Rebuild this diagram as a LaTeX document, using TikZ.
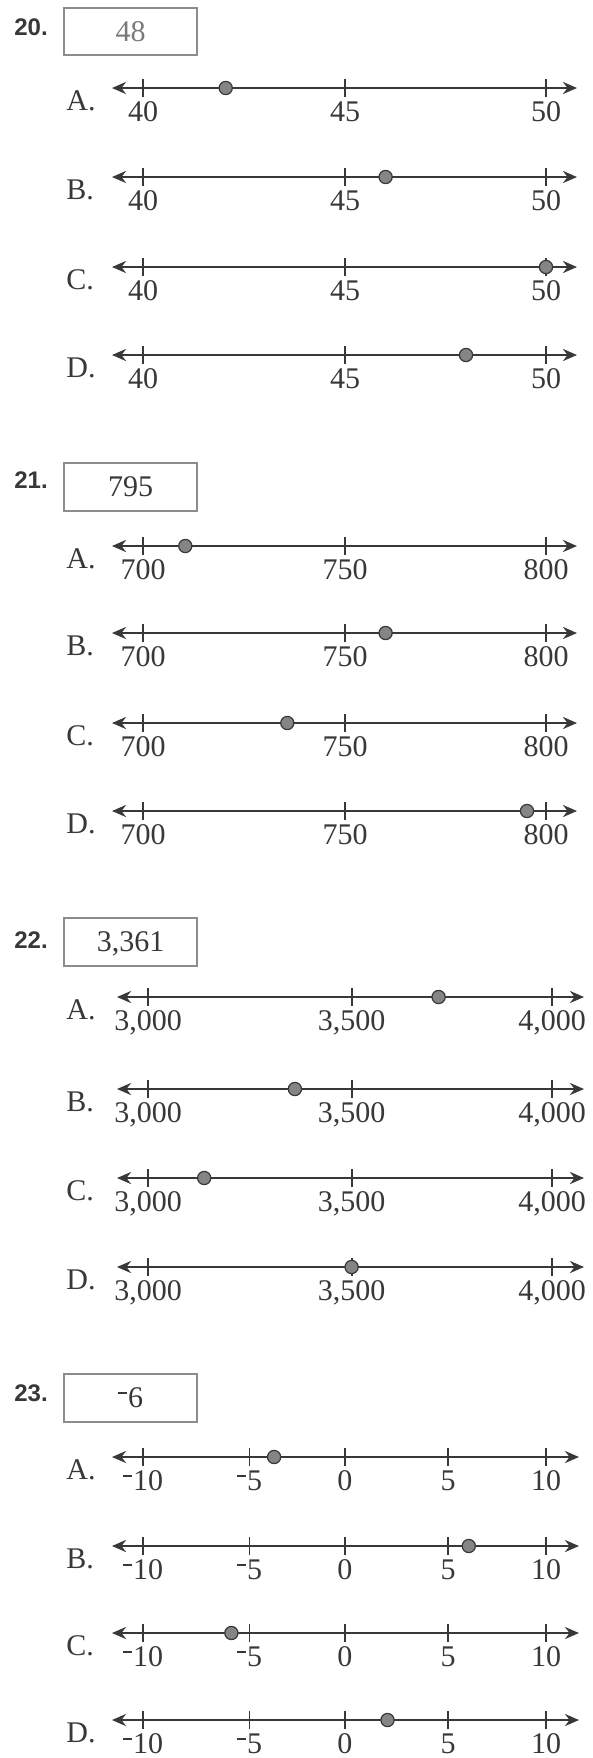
\documentclass[tikz,border=0pt]{standalone}
\usepackage{fontspec}
\setmainfont{Liberation Serif}
\setsansfont{Liberation Sans}
\usetikzlibrary{arrows.meta}
\definecolor{ink}{HTML}{383838}
\definecolor{boxgray}{HTML}{8C8C8C}
\definecolor{dotfill}{HTML}{858585}
\definecolor{lightnum}{HTML}{7A7A7A}
\newcommand{\smin}{\raisebox{0.45em}{\rule{0.3em}{0.07em}}\kern0.04em}
\newcommand{\numline}[7]{%
  \coordinate (#1-l) at (#4,#2);
  \coordinate (#1-r) at (#5,#2);
  \draw[axis] (#1-l) -- (#1-r);
  \foreach \tx/\tl [count=\ti] in {#6} {
    \coordinate (#1-t\ti-a) at (\tx,#2-9);
    \coordinate (#1-t\ti-b) at (\tx,#2+9);
    \draw[tickmark] (#1-t\ti-a) -- (#1-t\ti-b);
    \node[ticklab] (#1-n\ti) at (\tx,#2+24) {\tl};
  }
  \node[letter] (#1-let) at (66,#2+13) {#3.};
  \node[dot] (#1-dot) at (#7,#2) {};
}
\begin{document}
\begin{tikzpicture}[x=0.5pt,y=-0.5pt,
  axis/.style={draw=ink,line width=1.35pt,>={Stealth[length=7pt,width=6pt]},<->},
  tickmark/.style={draw=ink,line width=0.95pt},
  ticklab/.style={font=\fontsize{15}{15}\selectfont,text=ink,inner sep=0pt,text depth=0pt,anchor=center},
  letter/.style={font=\fontsize{15}{15}\selectfont,text=ink,inner sep=0pt,anchor=west},
  dot/.style={circle,fill=dotfill,draw=ink,line width=0.6pt,minimum size=6.6pt,inner sep=0pt},
  answerbox/.style={draw=boxgray,line width=0.8pt,minimum width=66.5pt,minimum height=24pt,inner sep=0pt,font=\fontsize{15}{15}\selectfont,text=ink,text depth=0pt},
  qnum/.style={font=\sffamily\bfseries\fontsize{12}{12}\selectfont,text=ink,inner sep=0pt}]
\fill[white] (0,0) rectangle (593,1758);
\useasboundingbox (0,0) rectangle (593,1758);

% ---------- 20 ----------
\node[qnum] (q20) at (31,27) {20.};
\node[answerbox,text=lightnum,minimum height=23.5pt] (b20) at (130.5,31.5) {48};
\numline{20a}{88}{A}{112}{577}{143/40,345/45,546/50}{225.7}
\numline{20b}{177}{B}{112}{577}{143/40,345/45,546/50}{385.6}
\numline{20c}{267}{C}{112}{577}{143/40,345/45,546/50}{546}
\numline{20d}{355}{D}{112}{577}{143/40,345/45,546/50}{466}

% ---------- 21 ----------
\node[qnum] (q21) at (31,480) {21.};
\node[answerbox] (b21) at (130.5,487) {795};
\numline{21a}{546}{A}{112}{577}{143/700,345/750,546/800}{185.3}
\numline{21b}{633}{B}{112}{577}{143/700,345/750,546/800}{385.6}
\numline{21c}{723}{C}{112}{577}{143/700,345/750,546/800}{287.3}
\numline{21d}{811}{D}{112}{577}{143/700,345/750,546/800}{527}

% ---------- 22 ----------
\node[qnum] (q22) at (31,940) {22.};
\node[answerbox] (b22) at (130.5,942) {3,361};
\numline{22a}{997}{A}{117}{584}{148.2/{3,000},351.6/{3,500},552/{4,000}}{438.6}
\numline{22b}{1089}{B}{117}{584}{148.2/{3,000},351.6/{3,500},552/{4,000}}{294.9}
\numline{22c}{1178}{C}{117}{584}{148.2/{3,000},351.6/{3,500},552/{4,000}}{204.2}
\numline{22d}{1267}{D}{117}{584}{148.2/{3,000},351.6/{3,500},552/{4,000}}{351.6}

% ---------- 23 ----------
\node[qnum] (q23) at (31,1393) {23.};
\node[answerbox] (b23) at (130.5,1398) {\smin6};
\numline{23a}{1457}{A}{112}{579}{142.9/\smin10,249.5/\smin5,344.8/0,448/5,546/10}{274.1}
\numline{23b}{1546}{B}{112}{579}{142.9/\smin10,249.5/\smin5,344.8/0,448/5,546/10}{468.8}
\numline{23c}{1633}{C}{112}{579}{142.9/\smin10,249.5/\smin5,344.8/0,448/5,546/10}{231.4}
\numline{23d}{1720}{D}{112}{579}{142.9/\smin10,249.5/\smin5,344.8/0,448/5,546/10}{387.5}
\end{tikzpicture}
\end{document}
